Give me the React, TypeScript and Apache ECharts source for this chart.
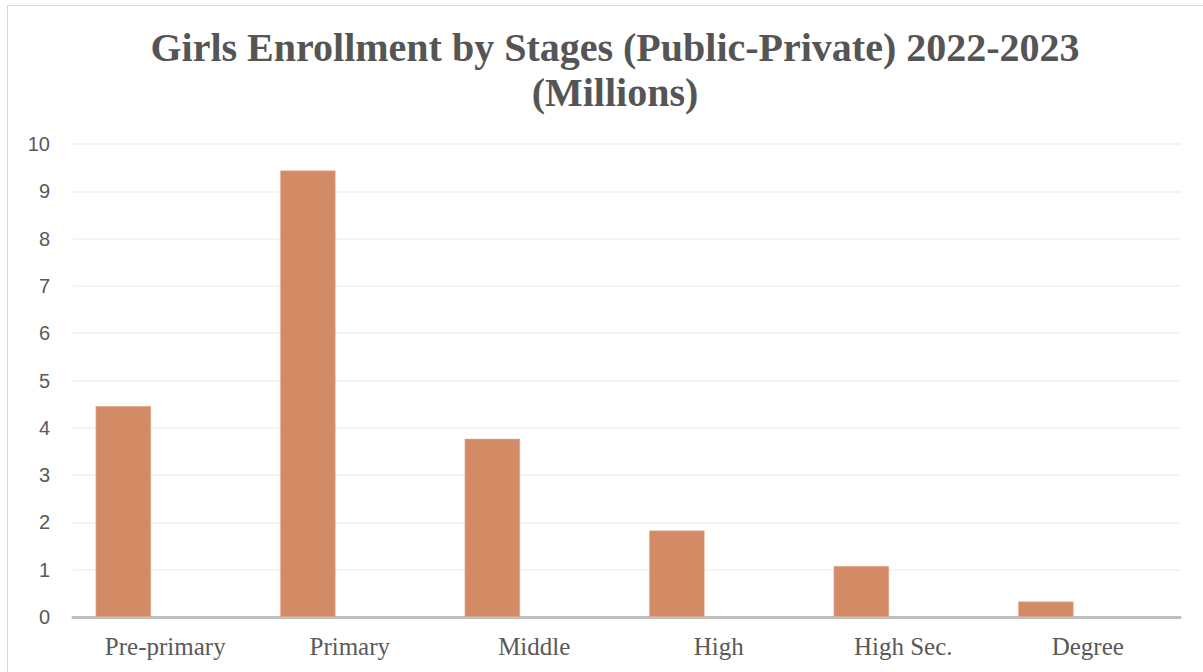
import React, { useEffect, useRef } from "react";
import * as echarts from "echarts";

const stages = ["Pre-primary", "Primary", "Middle", "High", "High Sec.", "Degree"];
const girlsMillions = [4.46, 9.44, 3.77, 1.83, 1.08, 0.33];
const yTicks = [0, 10, 1];
const titleText = "Girls Enrollment by Stages (Public-Private) 2022-2023\n(Millions)";

export default function App() {
  const ref = useRef<HTMLDivElement>(null);
  useEffect(() => {
    if (!ref.current) return;
    const chart = echarts.init(ref.current, null, { renderer: "svg" });
    chart.setOption({
      animation: false,
      backgroundColor: "#ffffff",
      title: {
        text: titleText,
        left: 615,
        top: 25,
        padding: 0,
        textAlign: "center",
        textStyle: {
          fontFamily: "Liberation Serif",
          fontWeight: "bold",
          fontSize: 40,
          lineHeight: 45,
          color: "#555555",
        },
      },
      graphic: [
        {
          type: "rect",
          shape: { x: 7.5, y: 5.5, width: 1205, height: 680 },
          style: { fill: "none", stroke: "#d9d9d9", lineWidth: 1 },
          silent: true,
        },
      ],
      grid: { left: 73, right: 23, top: 144, bottom: 55, containLabel: false },
      xAxis: {
        type: "category",
        data: stages,
        axisLine: { show: true, lineStyle: { color: "#bfbfbf", width: 3 } },
        axisTick: { show: false },
        axisLabel: {
          margin: 17,
          fontFamily: "Liberation Serif",
          fontSize: 25,
          color: "#595959",
        },
      },
      yAxis: {
        type: "value",
        min: yTicks[0],
        max: yTicks[1],
        interval: yTicks[2],
        axisLine: { show: false },
        axisTick: { show: false },
        splitLine: { lineStyle: { color: "#f0f0f0", width: 1.5 } },
        axisLabel: {
          margin: 23,
          fontFamily: "Liberation Sans",
          fontSize: 20,
          color: "#595959",
        },
      },
      series: [
        {
          name: "Girls",
          type: "bar",
          data: girlsMillions,
          barWidth: 55.5,
          barGap: "51%",
          itemStyle: { color: "#d38b66", borderColor: "#e9bfa6", borderWidth: 0.5 },
        },
        {
          name: "Other",
          type: "bar",
          data: [],
          barWidth: 55.5,
          barGap: "51%",
        },
      ],
    });
    return () => chart.dispose();
  }, []);
  return (
    <div
      ref={ref}
      style={{ position: "fixed", left: 0, top: 0, width: 1203, height: 672, background: "#fff" }}
    />
  );
}
